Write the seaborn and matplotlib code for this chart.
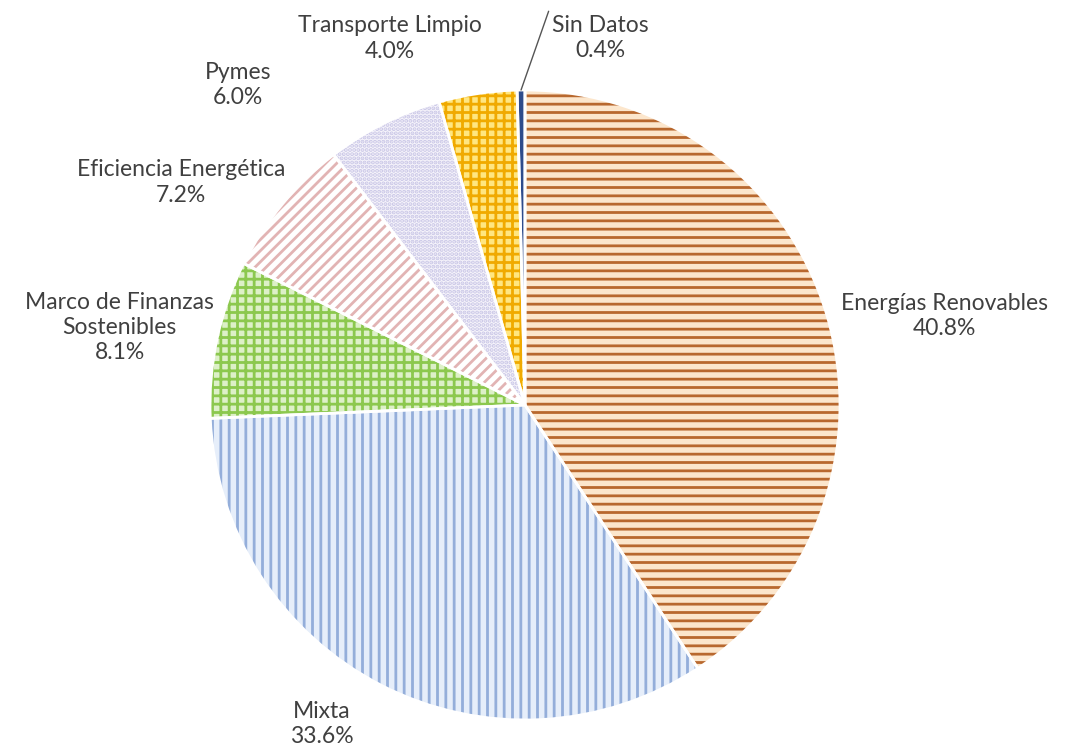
import numpy as np
import matplotlib.pyplot as plt
import seaborn as sns

# Datos del gráfico
categorias = ["Energías Renovables", "Mixta", "Marco de Finanzas\nSostenibles",
              "Eficiencia Energética", "Pymes", "Transporte Limpio", "Sin Datos"]
porcentajes = [40.8, 33.6, 8.1, 7.2, 6.0, 4.0, 0.4]

# Estilo de cada porción
fondos = ["#FCE6CC", "#E6EEFA", "#DDF0C8", "#FFFFFF", "#F6F4FB", "#FFE680", "#2E4C8C"]
tramas_color = ["#B8682E", "#94AEDA", "#8CC84E", "#E2B4B4", "#C9C6E6", "#F0AA00", "#2E4C8C"]
tramas = ["--", "||", "++", "///", "....", "++", ""]

# posición de las etiquetas (ángulo en grados, distancia al centro)
etq_angulo = [12.0, 237.5, 169.2, 147.1, 131.9, 110.2, 78.4]
etq_dist = [1.36, 1.20, 1.31, 1.30, 1.365, 1.24, 1.19]

sns.set_theme(style="white")
plt.rcParams["font.family"] = ["Lato", "DejaVu Sans"]
plt.rcParams["hatch.linewidth"] = 2.0

fig = plt.figure(figsize=(10.66, 7.53), dpi=100)
ax = fig.add_axes([0, 0, 1, 1])

wedges, _ = ax.pie(porcentajes, startangle=90, counterclock=False,
                   colors=fondos, radius=1.0,
                   wedgeprops=dict(linewidth=0))
for w, h, hc in zip(wedges, tramas, tramas_color):
    w.set_hatch(h)
    w.set_edgecolor(hc)
    w.set_linewidth(0)

# bordes blancos
ax.pie(porcentajes, startangle=90, counterclock=False, radius=1.0,
       colors=["none"] * len(porcentajes),
       wedgeprops=dict(edgecolor="white", linewidth=2, fill=False))

# escala: radio del pastel = 315 px, centro en (525, 405) desde arriba
r_px = 315
cx, cy = 525, 753 - 405
ax.set_aspect("auto")
ax.set_xlim(-cx / r_px, (1066 - cx) / r_px)
ax.set_ylim(-cy / r_px, (753 - cy) / r_px)
ax.axis("off")

for cat, val, ang, d in zip(categorias, porcentajes, etq_angulo, etq_dist):
    x = d * np.cos(np.radians(ang))
    y = d * np.sin(np.radians(ang))
    ax.text(x, y, f"{cat}\n{val:.1f}%", ha="center", va="center",
            fontsize=16.5, color="#404040", linespacing=1.25)

# línea guía para "Sin Datos"
w = wedges[-1]
mid = np.radians((w.theta1 + w.theta2) / 2)
ax.annotate("", xy=(np.cos(mid), np.sin(mid)), xytext=(0.075, 1.25),
            arrowprops=dict(arrowstyle="-", color="#555555", lw=1,
                            shrinkA=0, shrinkB=0))

fig.savefig("out.png", dpi=100)
